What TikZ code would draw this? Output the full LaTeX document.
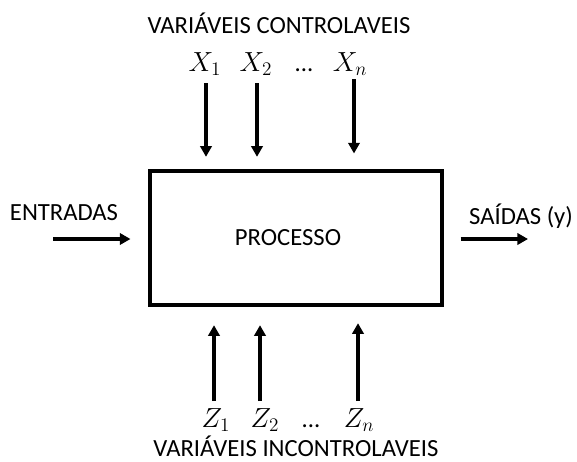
\documentclass[tikz,border=0pt]{standalone}
\usepackage{fontspec}
\setmainfont{Carlito}
\usepackage{tikz}
\usetikzlibrary{arrows.meta, positioning}

\begin{document}
\begin{tikzpicture}[
    x=0.75pt, y=-0.75pt,
    procbox/.style={draw, line width=2.3pt, minimum width=219pt, minimum height=100.5pt, inner sep=0pt},
    lbl/.style={font=\fontsize{18.5}{22}\selectfont, anchor=base, inner sep=0pt},
    var/.style={font=\fontsize{19.5}{22}\selectfont, anchor=base, inner sep=0pt},
    arr/.style={-{Triangle[length=8pt, width=8.5pt]}, line width=2.4pt},
]
    \useasboundingbox (0,0) rectangle (577,461);

    % Process block
    \node[procbox] (proc) at (296,238) {};
    \node[lbl] (proctxt) at (288,245) {PROCESSO};

    % Controllable variables
    \node[lbl] (ctrl) at (279,33) {VARIÁVEIS CONTROLAVEIS};
    \node[var] (x1) at (205,71) {$X_1$};
    \node[var] (x2) at (256,71) {$X_2$};
    \node[lbl] (xdots) at (304,71) {...};
    \node[var] (xn) at (350,71) {$X_n$};
    \coordinate (xa1) at (206,83);
    \coordinate (xa2) at (257,83);
    \coordinate (xan) at (354,79);
    \draw[arr, shorten >=9.5pt] (xa1) -- (xa1 |- proc.north);
    \draw[arr, shorten >=9.5pt] (xa2) -- (xa2 |- proc.north);
    \draw[arr, shorten >=12pt] (xan) -- (xan |- proc.north);

    % Uncontrollable variables
    \node[var] (z1) at (216,427) {$Z_1$};
    \node[var] (z2) at (265,427) {$Z_2$};
    \node[lbl] (zdots) at (311,427) {...};
    \node[var] (zn) at (359,427) {$Z_n$};
    \node[lbl] (unctrl) at (296,456) {VARIÁVEIS INCONTROLAVEIS};
    \coordinate (za1) at (214,401);
    \coordinate (za2) at (260,401);
    \coordinate (zan) at (358,401);
    \draw[arr, shorten >=14pt] (za1) -- (za1 |- proc.south);
    \draw[arr, shorten >=14pt] (za2) -- (za2 |- proc.south);
    \draw[arr, shorten >=12.5pt] (zan) -- (zan |- proc.south);

    % Inputs and outputs
    \node[lbl] (inlbl) at (64,220) {ENTRADAS};
    \node[lbl] (outlbl) at (521,224) {SAÍDAS (y)};
    \coordinate (ina) at (53,239);
    \coordinate (outa) at (528,239);
    \draw[arr, shorten >=13.5pt] (ina) -- (ina -| proc.west);
    \draw[arr, shorten <=12.75pt] (proc.east |- outa) -- (outa);
\end{tikzpicture}
\end{document}
